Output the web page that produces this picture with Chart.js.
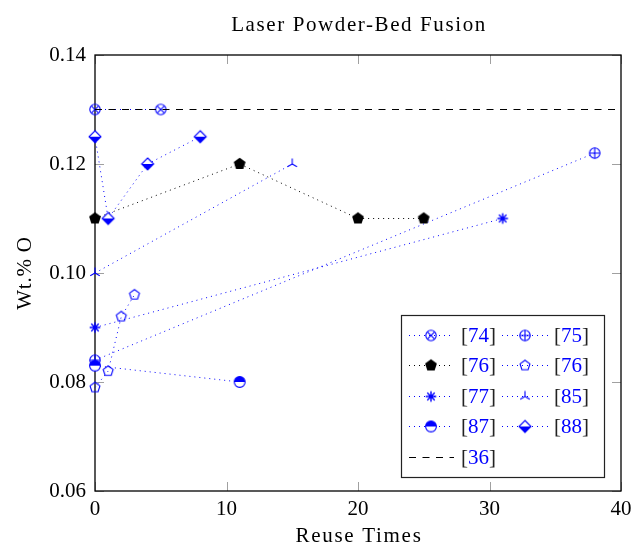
<!DOCTYPE html>
<html><head><meta charset="utf-8">
<script src="https://cdn.jsdelivr.net/npm/chart.js@4.4.0/dist/chart.umd.min.js"></script>
<style>html,body{margin:0;padding:0;background:#fff}#wrap{width:632px;height:545px;position:relative}</style>
</head><body><div id="wrap"><canvas id="c" width="632" height="545"></canvas></div>
<script>
// ---- data ----
const chartTitle = 'Laser Powder-Bed Fusion';
const xTitle = 'Reuse Times';
const yTitle = 'Wt.% O';
const xTicks = [0, 10, 20, 30, 40];
const yTicks = [0.06, 0.08, 0.10, 0.12, 0.14];

const x74 = [0, 5],            y74 = [0.13, 0.13];
const x75 = [0, 38],           y75 = [0.084, 0.122];
const x76a = [0, 11, 20, 25],  y76a = [0.11, 0.12, 0.11, 0.11];
const x76b = [0, 1, 2, 3],     y76b = [0.079, 0.082, 0.092, 0.096];
const x77 = [0, 31],           y77 = [0.09, 0.11];
const x85 = [0, 15],           y85 = [0.10, 0.12];
const x87 = [0, 11],           y87 = [0.083, 0.080];
const x88 = [0, 1, 4, 8],      y88 = [0.125, 0.11, 0.12, 0.125];
const x36 = [0, 40],           y36 = [0.13, 0.13];

const labels = ['74', '75', '76', '76', '77', '85', '87', '88', '36'];

// ---- styling ----
const BLUE = '#0000ff';
const FONT = "'Liberation Serif', 'Times New Roman', serif";
const FS = 21;

function mk(size, fn) {
  const c = document.createElement('canvas');
  c.width = size; c.height = size;
  const g = c.getContext('2d');
  g.translate(size / 2, size / 2);
  g.lineWidth = 1.1;
  fn(g);
  return c;
}
function poly(g, n, r, rot) {
  g.beginPath();
  for (let i = 0; i < n; i++) {
    const a = rot + i * 2 * Math.PI / n;
    const px = r * Math.cos(a), py = r * Math.sin(a);
    if (i === 0) g.moveTo(px, py); else g.lineTo(px, py);
  }
  g.closePath();
}
const M = {
  otimes: mk(16, g => { g.strokeStyle = BLUE; g.beginPath(); g.arc(0,0,5.2,0,2*Math.PI); g.stroke();
    const d = 3.7; g.beginPath(); g.moveTo(-d,-d); g.lineTo(d,d); g.moveTo(-d,d); g.lineTo(d,-d); g.stroke(); }),
  oplus: mk(16, g => { g.strokeStyle = BLUE; g.beginPath(); g.arc(0,0,5.2,0,2*Math.PI); g.stroke();
    const d = 5.2; g.beginPath(); g.moveTo(-d,0); g.lineTo(d,0); g.moveTo(0,-d); g.lineTo(0,d); g.stroke(); }),
  pentFill: mk(16, g => { g.fillStyle = '#000'; poly(g, 5, 6.2, -Math.PI/2); g.fill(); }),
  pentOpen: mk(16, g => { g.strokeStyle = BLUE; poly(g, 5, 5.2, -Math.PI/2); g.stroke(); }),
  asterisk: mk(16, g => { g.strokeStyle = BLUE; g.lineWidth = 1.4; g.beginPath();
    for (let k = 0; k < 4; k++) { const a = Math.PI/2 + k*Math.PI/4; const r = 5.3;
      g.moveTo(-r*Math.cos(a), -r*Math.sin(a)); g.lineTo(r*Math.cos(a), r*Math.sin(a)); }
    g.stroke(); }),
  tri: mk(16, g => { g.strokeStyle = BLUE; g.beginPath(); const r = 5.5;
    [-90, 30, 150].forEach(deg => { const a = deg*Math.PI/180; g.moveTo(0,0); g.lineTo(r*Math.cos(a), r*Math.sin(a)); });
    g.stroke(); }),
  halfcircle: mk(16, g => { const r = 5.4; g.fillStyle = '#fff'; g.beginPath(); g.arc(0,0,r,0,2*Math.PI); g.fill();
    g.fillStyle = BLUE; g.beginPath(); g.arc(0,0,r,Math.PI,2*Math.PI); g.closePath(); g.fill();
    g.strokeStyle = BLUE; g.beginPath(); g.arc(0,0,r,0,2*Math.PI); g.stroke(); }),
  halfdiamond: mk(16, g => { const r = 6; g.fillStyle = '#fff'; poly(g, 4, r, -Math.PI/2); g.fill();
    g.fillStyle = BLUE; g.beginPath(); g.moveTo(-r,0); g.lineTo(r,0); g.lineTo(0,r); g.closePath(); g.fill();
    g.strokeStyle = BLUE; poly(g, 4, r, -Math.PI/2); g.stroke(); })
};

function pts(xs, ys) { return xs.map((x, i) => ({ x: x, y: ys[i] })); }
const DOT = [1, 4];
function ds(i, xs, ys, color, marker, dash) {
  return {
    label: '[' + labels[i] + ']',
    data: pts(xs, ys),
    showLine: true,
    borderColor: color,
    backgroundColor: color,
    borderWidth: 1,
    borderDash: dash,
    pointStyle: marker || false,
    pointRadius: marker ? 6 : 0,
    pointHoverRadius: marker ? 6 : 0,
    clip: false,
    order: 20 - i,
    _marker: marker
  };
}
const datasets = [
  ds(0, x74, y74, BLUE, M.otimes, DOT),
  ds(1, x75, y75, BLUE, M.oplus, DOT),
  ds(2, x76a, y76a, '#000', M.pentFill, DOT),
  ds(3, x76b, y76b, BLUE, M.pentOpen, DOT),
  ds(4, x77, y77, BLUE, M.asterisk, DOT),
  ds(5, x85, y85, BLUE, M.tri, DOT),
  ds(6, x87, y87, BLUE, M.halfcircle, DOT),
  ds(7, x88, y88, BLUE, M.halfdiamond, DOT),
  ds(8, x36, y36, '#000', null, [7, 6.5])
];

const framePlugin = {
  id: 'frame',
  beforeDatasetsDraw(chart) {
    const { ctx, chartArea: a, scales } = chart;
    ctx.save();
    ctx.strokeStyle = '#a0a0a0';
    ctx.lineWidth = 1;
    const TL = 9;
    ctx.beginPath();
    xTicks.forEach(v => {
      const px = Math.round(scales.x.getPixelForValue(v)) + 0.5;
      ctx.moveTo(px, a.bottom); ctx.lineTo(px, a.bottom - TL);
      ctx.moveTo(px, a.top); ctx.lineTo(px, a.top + TL);
    });
    yTicks.forEach(v => {
      const py = Math.round(scales.y.getPixelForValue(v)) + 0.5;
      ctx.moveTo(a.left, py); ctx.lineTo(a.left + TL, py);
      ctx.moveTo(a.right, py); ctx.lineTo(a.right - TL, py);
    });
    ctx.stroke();
    ctx.strokeStyle = '#000';
    ctx.lineWidth = 1.3;
    ctx.strokeRect(a.left, a.top, a.right - a.left, a.bottom - a.top);
    ctx.restore();
  },
  afterDraw(chart) {
    const { ctx, chartArea: a } = chart;
    ctx.save();
    ctx.fillStyle = '#000';
    ctx.font = FS + 'px ' + FONT;
    ctx.textAlign = 'center';
    ctx.textBaseline = 'middle';
    const cx = (a.left + a.right) / 2;
    ctx.letterSpacing = '1.6px';
    ctx.fillText(chartTitle, cx + 1, 25);
    ctx.letterSpacing = '1.7px';
    ctx.fillText(xTitle, cx + 1, 536);
    ctx.save();
    ctx.letterSpacing = '0.8px';
    ctx.translate(25, (a.top + a.bottom) / 2);
    ctx.rotate(-Math.PI / 2);
    ctx.fillText(yTitle, 0, 0);
    ctx.restore();
    ctx.letterSpacing = '0px';

    // legend
    const L = { left: 401, top: 315, right: 604, bottom: 477 };
    ctx.fillStyle = '#fff';
    ctx.fillRect(L.left, L.top, L.right - L.left, L.bottom - L.top);
    ctx.strokeStyle = '#222';
    ctx.lineWidth = 1.2;
    ctx.strokeRect(L.left + 0.5, L.top + 0.5, L.right - L.left, L.bottom - L.top);
    const cols = [{ l0: 409, l1: 454, m: 431, t: 461 }, { l0: 502, l1: 548, m: 525, t: 554 }];
    const row0 = 335, rowH = 30.4;
    chart.data.datasets.forEach((d, i) => {
      const c = i === 8 ? cols[0] : cols[i % 2];
      const r = i === 8 ? 4 : Math.floor(i / 2);
      const y = Math.round(row0 + r * rowH) + 0.5;
      ctx.save();
      ctx.strokeStyle = d.borderColor;
      ctx.lineWidth = 1;
      ctx.setLineDash(i === 8 ? [7, 6.5] : DOT);
      ctx.beginPath();
      ctx.moveTo(c.l0, y); ctx.lineTo(c.l1, y);
      ctx.stroke();
      ctx.restore();
      if (d._marker) ctx.drawImage(d._marker, c.m - d._marker.width / 2, y - d._marker.height / 2);
      ctx.font = FS + 'px ' + FONT;
      ctx.textAlign = 'left';
      ctx.textBaseline = 'middle';
      let tx = c.t;
      ctx.fillStyle = '#222';
      ctx.fillText('[', tx, y + 1); tx += ctx.measureText('[').width;
      ctx.fillStyle = BLUE;
      ctx.fillText(labels[i], tx, y + 1); tx += ctx.measureText(labels[i]).width;
      ctx.fillStyle = '#222';
      ctx.fillText(']', tx, y + 1);
    });
    ctx.restore();
  }
};

new Chart(document.getElementById('c'), {
  type: 'scatter',
  data: { datasets: datasets },
  options: {
    responsive: false,
    animation: false,
    events: [],
    layout: { padding: { left: 0, right: 11, top: 55, bottom: 0 } },
    plugins: { legend: { display: false }, title: { display: false }, tooltip: { enabled: false } },
    scales: {
      x: {
        type: 'linear', min: 0, max: 40,
        afterBuildTicks: s => { s.ticks = xTicks.map(v => ({ value: v })); },
        afterFit: s => { s.height = 54; s.paddingLeft = 0; s.paddingRight = 0; },
        grid: { display: false, drawTicks: false, tickLength: 0 },
        border: { display: false },
        ticks: { color: '#000', font: { family: FONT, size: FS }, padding: 6, maxRotation: 0 }
      },
      y: {
        type: 'linear', min: 0.06, max: 0.14,
        afterBuildTicks: s => { s.ticks = yTicks.map(v => ({ value: v })); },
        afterFit: s => { s.width = 95; s.paddingTop = 0; s.paddingBottom = 0; },
        grid: { display: false, drawTicks: false, tickLength: 0 },
        border: { display: false },
        ticks: { color: '#000', font: { family: FONT, size: FS }, padding: 9, callback: v => v.toFixed(2) }
      }
    }
  },
  plugins: [framePlugin]
});
</script>
</body></html>
